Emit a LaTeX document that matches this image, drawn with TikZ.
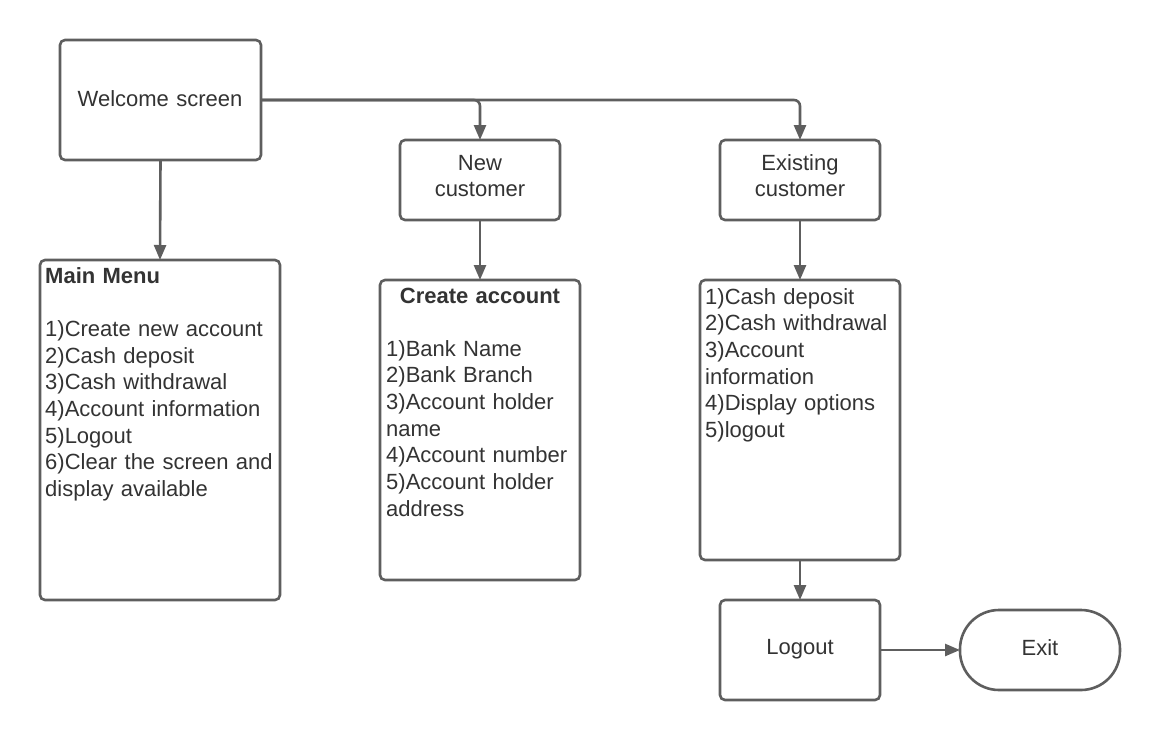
\documentclass[tikz,border=0pt]{standalone}
\usepackage{fontspec}
\setmainfont{Liberation Sans}
\usetikzlibrary{arrows.meta}
\definecolor{lc}{HTML}{5E5E5E}
\definecolor{tc}{HTML}{333333}
\begin{document}
\begin{tikzpicture}[x=1pt,y=-1pt,
  box/.style={draw=lc, line width=2.6pt, rounded corners=5pt, fill=white, inner sep=0pt, outer sep=0pt},
  txt/.style={text=tc, font=\fontsize{22}{26.7}\selectfont, inner sep=0pt},
  lst/.style={txt, align=left, text width=240pt, anchor=base west},
  ctr/.style={txt, align=center, text width=200pt, anchor=base},
  conn/.style={draw=lc, line width=2.6pt, -{Triangle[length=15pt,width=12pt]}, rounded corners=6pt}]
\useasboundingbox (0,0) rectangle (1160,740);
\fill[white] (0,0) rectangle (1160,740);

% boxes
\node[box, minimum width=201pt, minimum height=120pt] (wel) at (160.5,100) {};
\node[box, minimum width=160pt, minimum height=80pt] (new) at (480,180) {};
\node[box, minimum width=160pt, minimum height=80pt] (ex) at (800,180) {};
\node[box, minimum width=240pt, minimum height=340pt] (mm) at (160,430) {};
\node[box, minimum width=200pt, minimum height=300pt] (ca) at (480,430) {};
\node[box, minimum width=200pt, minimum height=280pt] (exl) at (800,420) {};
\node[box, minimum width=160pt, minimum height=100pt] (lo) at (800,650) {};
\node[box, minimum width=160pt, minimum height=80pt, rounded corners=39pt] (exit) at (1040,650) {};

% texts
\node[ctr] (welt) at (160,106) {Welcome screen};
\node[ctr] (newt) at (480,170) {New\\customer};
\node[ctr] (ext) at (800,170) {Existing\\customer};
\node[lst] (mmt) at (45,283) {\textbf{Main Menu}\\[26.7pt]1)Create new account\\2)Cash deposit\\3)Cash withdrawal\\4)Account information\\5)Logout\\6)Clear the screen and\\display available};
\node[ctr] (cat) at (480,303) {\textbf{Create account}};
\node[lst] (cal) at (386,356) {1)Bank Name\\2)Bank Branch\\3)Account holder\\name\\4)Account number\\5)Account holder\\address};
\node[lst] (exlt) at (705,304) {1)Cash deposit\\2)Cash withdrawal\\3)Account\\information\\4)Display options\\5)logout};
\node[ctr] (lot) at (800,654) {Logout};
\node[ctr] (exitt) at (1040,655) {Exit};

% connectors
\draw[conn] (wel.south) -- (mm.north);
\draw[conn] (wel.east) -| (new.north);
\draw[conn] (wel.east) -| (ex.north);
\draw[conn] (new.south) -- (ca.north);
\draw[conn] (ex.south) -- (exl.north);
\draw[conn] (exl.south) -- (lo.north);
\draw[conn] (lo.east) -- (exit.west);
\end{tikzpicture}
\end{document}
